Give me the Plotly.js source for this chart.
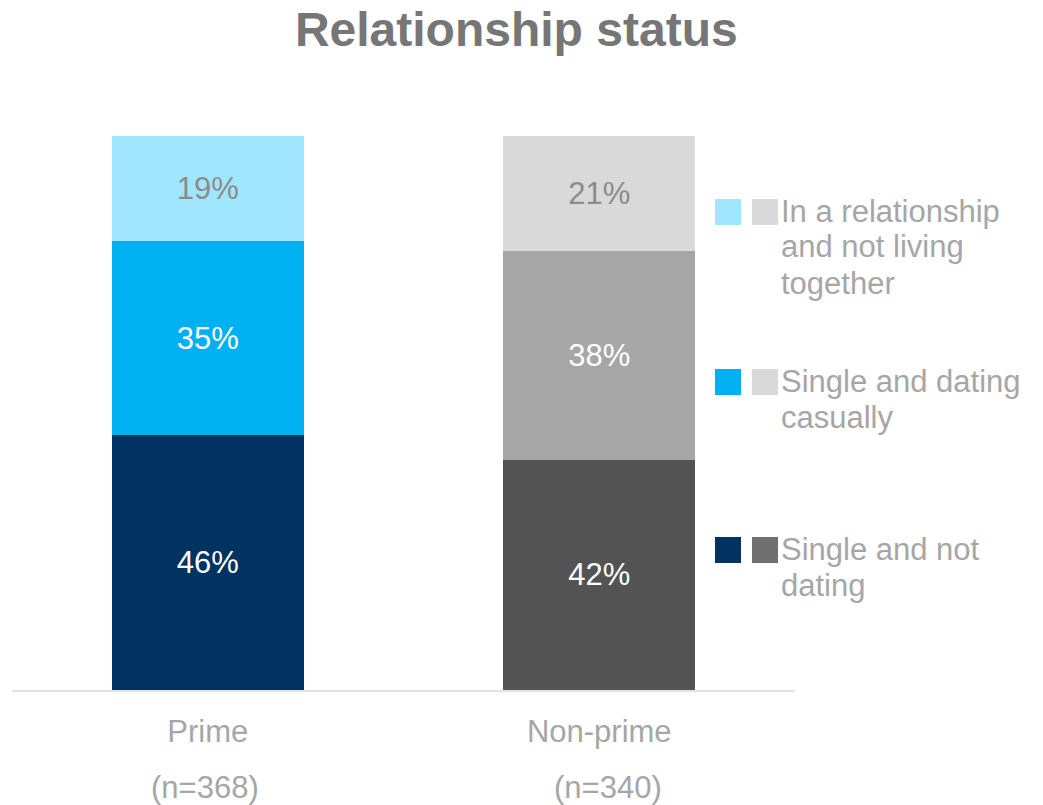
<!DOCTYPE html>
<html>
<head>
<meta charset="utf-8">
<script src="https://cdn.plot.ly/plotly-3.0.1.min.js"></script>
<style>html,body{margin:0;padding:0;background:#fff;}#chart{width:1043px;height:805px;}</style>
</head>
<body>
<div id="chart"></div>
<script>
// ---- data ----
const categories = ['Prime', 'Non-prime'];
const sampleLabels = ['(n=368)', '(n=340)'];
const notDating = [46, 42];
const datingCasually = [35, 38];
const relationship = [19, 21];
const seriesNames = ['Single and not dating', 'Single and dating casually', 'In a relationship and not living together'];
const legendLines = [
  ['In a relationship', 'and not living', 'together'],
  ['Single and dating', 'casually'],
  ['Single and not', 'dating']
];

// ---- styles ----
const FONT = 'Liberation Sans, Arial, sans-serif';
const W = 1043, H = 805;
const M = {l: 12, r: 248, t: 136, b: 115};
const plotW = W - M.l - M.r, plotH = H - M.t - M.b;
const px = x => (x - M.l) / plotW;
const py = y => (H - M.b - y) / plotH;

function trace(name, vals, colors, textColors) {
  return {
    type: 'bar', name: name, x: categories, y: vals,
    text: vals.map(v => v + '%'), textposition: 'inside', insidetextanchor: 'middle',
    textfont: {family: FONT, size: 31, color: textColors},
    constraintext: 'none',
    marker: {color: colors, line: {width: 0}},
    width: 0.49, hoverinfo: 'skip', showlegend: false
  };
}

const data = [
  trace(seriesNames[0], notDating, ['#003262', '#535353'], ['#ffffff', '#ffffff']),
  trace(seriesNames[1], datingCasually, ['#00B0F0', '#A6A6A6'], ['#ffffff', '#ffffff']),
  trace(seriesNames[2], relationship, ['#A1E6FF', '#D9D9D9'], ['#8c8c8c', '#8c8c8c'])
];

// legend (custom: two swatches per entry)
const legendRows = [
  {y: 212, c1: '#A1E6FF', c2: '#D9D9D9'},
  {y: 382, c1: '#00B0F0', c2: '#D9D9D9'},
  {y: 550, c1: '#003262', c2: '#6F6F6F'}
];
const shapes = [];
const annotations = [];
legendRows.forEach((r, k) => {
  shapes.push({type: 'rect', xref: 'paper', yref: 'paper', x0: px(715), x1: px(741), y0: py(r.y + 13), y1: py(r.y - 13), fillcolor: r.c1, line: {width: 0}});
  shapes.push({type: 'rect', xref: 'paper', yref: 'paper', x0: px(752), x1: px(778), y0: py(r.y + 13), y1: py(r.y - 13), fillcolor: r.c2, line: {width: 0}});
  legendLines[k].forEach((line, j) => {
    annotations.push({xref: 'paper', yref: 'paper', x: px(779), y: py(r.y - 1 + 36 * j), xanchor: 'left', yanchor: 'middle', align: 'left', showarrow: false, text: line, font: {family: FONT, size: 31, color: '#A6A6A6'}});
  });
});
sampleLabels.forEach((s, i) => {
  annotations.push({xref: 'x', yref: 'paper', x: i, y: py(787), xanchor: 'center', yanchor: 'middle', xshift: i === 1 ? 9 : -3, showarrow: false, text: s, font: {family: FONT, size: 31, color: '#A6A6A6'}});
});

const layout = {
  width: W, height: H,
  margin: M,
  paper_bgcolor: '#ffffff', plot_bgcolor: '#ffffff',
  barmode: 'stack', barnorm: 'percent',
  title: {text: '<b>Relationship status</b>', x: 0.495, xref: 'container', xanchor: 'center', y: 1 - 29 / H, yref: 'container', yanchor: 'middle', font: {family: FONT, size: 48, color: '#767676'}},
  xaxis: {type: 'category', range: [-0.5, 1.5], showline: true, linecolor: '#E3E3E3', linewidth: 1.5, ticks: '', showgrid: false, zeroline: false, tickfont: {family: FONT, size: 31, color: '#A6A6A6'}, ticklabelstandoff: 13},
  yaxis: {range: [0, 100], visible: false, showgrid: false, zeroline: false},
  shapes: shapes,
  annotations: annotations,
  showlegend: false
};

Plotly.newPlot('chart', data, layout, {displayModeBar: false, staticPlot: true});
</script>
</body>
</html>
